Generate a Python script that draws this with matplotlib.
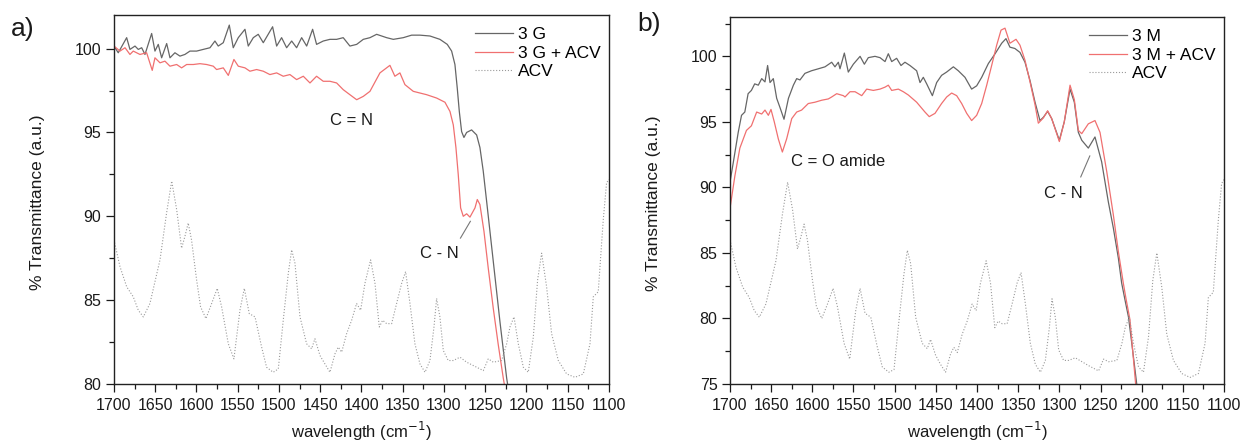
import matplotlib
matplotlib.use('Agg')
import matplotlib.pyplot as plt
from matplotlib.ticker import MultipleLocator

plt.rcParams['font.family'] = ['Liberation Sans', 'DejaVu Sans']

# ---- panel a) : 3 G ----
g_x = [1700, 1694.8, 1684.6, 1680.6, 1674.5, 1670.5, 1666.4, 1662.4, 1654.3, 1650.3,
       1646.3, 1642.2, 1636.1, 1632.1, 1626.1, 1620, 1614, 1607.9, 1599.8, 1591.8,
       1583.6, 1577.6, 1573.6, 1567.5, 1560.2, 1555.4, 1549.3, 1541.2, 1537.2, 1531.1,
       1525.1, 1519, 1507.7, 1502.8, 1496.8, 1490.7, 1484.6, 1478.6, 1472.5, 1466.4,
       1459.2, 1454.4, 1446.3, 1438.2, 1430.1, 1422.1, 1414, 1405.8, 1397.8, 1389.7,
       1381.6, 1369.5, 1361.4, 1349.3, 1339.2, 1329.1, 1317, 1304.9, 1296, 1290.7,
       1286.7, 1283.9, 1281.4, 1278.6, 1275.8, 1272.5, 1266.5, 1260.4, 1256.4, 1252.4,
       1248.3, 1240.2, 1232.1, 1224, 1221.6]
g_y = [100.15, 99.75, 100.65, 99.95, 100.15, 99.95, 100.05, 99.65, 100.9, 99.85,
       100.25, 99.45, 100.3, 99.45, 99.75, 99.55, 99.65, 99.85, 99.85, 99.95,
       100.05, 100.45, 100.15, 100.35, 101.4, 100.05, 100.65, 101.15, 100.15, 100.65,
       100.85, 100.35, 101.3, 100.15, 100.65, 100.05, 100.45, 100.05, 100.65, 100.15,
       101.15, 100.25, 100.45, 100.55, 100.55, 100.65, 100.15, 100.25, 100.55, 100.65,
       100.85, 100.65, 100.55, 100.65, 100.8, 100.8, 100.75, 100.55, 100.25, 99.85,
       99.05, 97.65, 96.25, 95.05, 94.7, 95.0, 95.15, 94.85, 94.1, 92.7,
       90.9, 87.3, 83.7, 80.35, 79.6]

# ---- panel a) : 3 G + ACV ----
ga_x = [1700, 1692.7, 1686.6, 1680.6, 1676.6, 1668.5, 1660.4, 1653.6, 1650.3, 1644.2,
        1638.2, 1632.1, 1624, 1618, 1611.9, 1603.8, 1595.8, 1587.7, 1579.6, 1575.6,
        1567.5, 1561.4, 1554.6, 1549.3, 1541.2, 1535.2, 1527.1, 1519, 1511, 1502.8,
        1494.8, 1486.7, 1478.6, 1470.5, 1462.4, 1454.4, 1446.3, 1438.2, 1430.1, 1422.1,
        1414, 1405.8, 1397.8, 1389.7, 1377.6, 1365.5, 1359.5, 1353.4, 1347.3, 1337.2,
        1329.1, 1321, 1308.9, 1298.8, 1292.7, 1288.7, 1285.5, 1282.7, 1279.8, 1276.6,
        1272.5, 1268.5, 1262.4, 1259.6, 1256.4, 1251.5, 1246.3, 1240.2, 1234.2, 1228.1,
        1225.7]
ga_y = [100.15, 99.85, 100.05, 99.65, 99.85, 99.65, 99.75, 98.7, 99.45, 99.15,
        99.25, 98.95, 99.05, 98.85, 99.05, 99.05, 99.1, 99.05, 98.95, 98.75,
        98.85, 98.4, 99.35, 98.95, 98.85, 98.65, 98.75, 98.65, 98.45, 98.55,
        98.35, 98.45, 98.15, 98.35, 97.95, 98.35, 98.05, 98.05, 97.95, 97.55,
        97.25, 96.95, 97.15, 97.45, 98.55, 99.0, 98.35, 98.55, 97.85, 97.45,
        97.35, 97.25, 97.05, 96.8, 96.25, 95.45, 94.1, 92.5, 90.5, 90.0,
        90.15, 89.95, 90.5, 91.0, 90.7, 89.1, 86.9, 84.5, 82.35, 80.35,
        79.65]

# ---- ACV (same spectrum, drawn in each panel) ----
acv_x = [1700, 1692.7, 1684.6, 1676.6, 1670.5, 1664.4, 1656.4, 1644.2, 1636.2, 1630,
         1624, 1618, 1614, 1610, 1606, 1599.8, 1595, 1588.5, 1581.6, 1574.8,
         1569.5, 1561.4, 1554.6, 1547.3, 1542, 1536, 1529, 1521, 1515, 1507,
         1500.8, 1494.8, 1488.7, 1484.6, 1480.6, 1474.5, 1466.5, 1460.4, 1456.4, 1450.3,
         1444.3, 1438.2, 1432.1, 1428.1, 1424, 1418, 1411.9, 1405.9, 1401, 1395.8,
         1388.9, 1383.6, 1378.4, 1374.3, 1369.5, 1363.4, 1357.4, 1351.3, 1346.5, 1341.2,
         1335.2, 1329.1, 1323, 1317, 1312.1, 1308.9, 1304.9, 1300.8, 1294.8, 1288.7,
         1280.6, 1272.5, 1264.4, 1252.3, 1246.3, 1240.2, 1230.1, 1224, 1220, 1215.1,
         1209.9, 1203.8, 1197.8, 1191.7, 1186.5, 1181.6, 1175.6, 1169.5, 1161.4, 1151.3,
         1141.2, 1131.1, 1123, 1119, 1113, 1106.9, 1102.9, 1100]
acv_a = [88.6, 87.0, 85.8, 85.2, 84.4, 84.0, 84.8, 87.4, 90.2, 92.1,
         90.4, 88.1, 88.8, 89.6, 88.6, 86.2, 84.6, 83.9, 84.8, 85.7,
         84.6, 82.4, 81.5, 84.4, 85.7, 84.2, 84.0, 82.2, 81.0, 80.7,
         80.9, 83.8, 86.6, 88.0, 87.2, 84.0, 82.4, 82.1, 82.7, 81.7,
         81.2, 80.7, 81.8, 82.2, 81.9, 83.0, 83.8, 84.8, 84.4, 86.0,
         87.4, 86.0, 83.4, 83.8, 83.6, 83.6, 84.8, 86.0, 86.7, 84.8,
         82.4, 81.2, 80.7, 81.4, 83.4, 85.1, 84.0, 82.0, 81.4, 81.4,
         81.6, 81.3, 81.1, 80.8, 81.5, 81.3, 81.4, 82.4, 83.4, 84.0,
         82.4, 81.0, 80.7, 82.8, 86.2, 87.8, 85.8, 83.0, 81.4, 80.6,
         80.4, 80.6, 82.4, 85.2, 85.5, 89.8, 92.0, 92.2]
acv_b = [86.0, 83.9, 82.4, 81.6, 80.6, 80.1, 81.1, 84.4, 88.0, 90.4,
         88.3, 85.3, 86.2, 87.2, 86.0, 82.9, 80.9, 80.0, 81.1, 82.3,
         80.9, 78.1, 76.9, 80.6, 82.3, 80.4, 80.1, 77.8, 76.3, 75.9,
         76.1, 79.8, 83.4, 85.2, 84.2, 80.1, 78.1, 77.7, 78.4, 77.2,
         76.5, 75.9, 77.3, 77.8, 77.4, 78.8, 79.8, 81.1, 80.6, 82.7,
         84.4, 82.7, 79.3, 79.8, 79.6, 79.6, 81.1, 82.7, 83.5, 81.1,
         78.1, 76.5, 75.9, 76.8, 79.3, 81.5, 80.1, 77.6, 76.8, 76.8,
         77.0, 76.7, 76.4, 76.0, 76.9, 76.7, 76.8, 78.1, 79.3, 80.1,
         78.1, 76.3, 75.9, 78.6, 82.9, 85.0, 82.4, 78.8, 76.8, 75.8,
         75.5, 75.8, 78.1, 81.6, 82.0, 87.5, 90.3, 90.6]

# ---- panel b) : 3 M ----
m_x = [1700, 1696, 1690, 1686, 1682, 1678, 1674, 1670, 1665.6, 1661.5,
       1657.5, 1654.3, 1651.4, 1647.4, 1643.3, 1639.3, 1634.4, 1629, 1623, 1619,
       1615, 1609, 1601, 1592.7, 1584.6, 1576.5, 1572.5, 1568.4, 1566.4, 1561.1,
       1556.3, 1550.2, 1542, 1536.8, 1532, 1523.9, 1517.8, 1511.7, 1507.7, 1503.6,
       1497.6, 1492.3, 1487.5, 1481.4, 1473.3, 1469.2, 1465.2, 1461.1, 1454.2, 1449,
       1443, 1436.9, 1428.7, 1422.7, 1414.6, 1406.5, 1400.4, 1394.3, 1386.2, 1378,
       1370, 1364.8, 1360, 1354, 1347.8, 1341.7, 1335.6, 1329.5, 1323.5, 1319.4,
       1314.2, 1309.3, 1300, 1294, 1287, 1281.8, 1276.9, 1272.8, 1264.8, 1256.7,
       1248.6, 1240.5, 1234.4, 1228.3, 1224.3, 1220.2, 1216, 1212, 1206, 1204]
m_y = [90.4, 91.9, 94.2, 95.5, 95.75, 97.15, 97.4, 97.9, 97.8, 98.3,
       98.05, 99.3, 98.0, 98.3, 96.8, 96.1, 95.2, 96.8, 97.8, 98.3,
       98.2, 98.7, 98.9, 99.05, 99.2, 99.55, 99.2, 99.55, 99.05, 100.25,
       98.8, 99.4, 100.0, 99.4, 99.9, 100.0, 99.9, 99.6, 100.2, 99.6,
       99.85, 99.3, 99.55, 99.3, 98.9, 98.0, 98.4, 97.9, 97.0, 98.0,
       98.55, 98.8, 99.2, 98.9, 98.4, 97.5, 97.75, 98.4, 99.45, 100.2,
       101.0, 101.35, 100.7, 100.6, 100.3, 99.55, 98.15, 96.5, 95.1, 95.35,
       95.8, 95.25, 93.6, 95.0, 97.5, 96.5, 94.2, 93.6, 93.0, 93.85,
       91.95, 88.9, 86.9, 84.6, 82.7, 81.4, 80.1, 78.1, 75.0, 74.3]

# ---- panel b) : 3 M + ACV ----
ma_x = [1700, 1694, 1688, 1680, 1674, 1667.6, 1661.5, 1657.5, 1653.4, 1650.2,
        1646.2, 1641.3, 1636.4, 1631.2, 1625, 1619, 1613, 1604.9, 1596.8, 1588.7,
        1580.6, 1576.5, 1570.4, 1562.3, 1560.3, 1554.2, 1548.1, 1540, 1534, 1525.9,
        1517.8, 1511.7, 1507.7, 1503.6, 1495.5, 1489.5, 1483.4, 1473.3, 1463.2, 1458,
        1451, 1443, 1436.8, 1430.8, 1424.7, 1418.6, 1412.5, 1406.5, 1400.4, 1394.3,
        1388.2, 1382.2, 1376.1, 1370.8, 1366, 1360, 1352.6, 1347.8, 1341.7, 1335.6,
        1329.5, 1325.5, 1319.4, 1314.2, 1309.3, 1300, 1294, 1287, 1281.8, 1276.9,
        1272.8, 1264.8, 1256.7, 1250.6, 1242.4, 1234.4, 1228.3, 1222.3, 1219, 1214.2,
        1207.4, 1205]
ma_y = [88.4, 90.9, 93.0, 94.35, 94.7, 95.75, 95.6, 95.9, 95.5, 95.95,
        95.0, 93.7, 92.7, 93.7, 95.25, 95.75, 95.9, 96.4, 96.5, 96.65,
        96.75, 96.9, 97.15, 97.0, 96.9, 97.3, 97.3, 97.0, 97.5, 97.4,
        97.5, 97.65, 97.8, 97.4, 97.5, 97.3, 97.05, 96.5, 95.75, 95.4,
        95.65, 96.4, 96.9, 97.2, 97.0, 96.4, 95.65, 95.1, 95.5, 96.4,
        97.8, 99.3, 100.85, 102.0, 102.15, 101.0, 101.3, 100.85, 99.7, 98.05,
        96.3, 94.9, 95.3, 95.85, 95.25, 93.5, 95.0, 97.8, 96.7, 94.35,
        94.1, 94.85, 95.1, 94.2, 91.2, 87.9, 85.1, 82.7, 81.5, 79.9,
        75.05, 74.3]

gray = '#666666'
red = '#f07070'
acv_c = '#9a9a9a'
txt = '#1a1a1a'

fig = plt.figure(figsize=(12.4, 4.42), dpi=100)
ax1 = fig.add_axes([0.0919, 0.1312, 0.3992, 0.8348])
ax2 = fig.add_axes([0.5887, 0.1312, 0.3984, 0.8303])


def style(ax, ymin, ymax, ticks):
    ax.set_xlim(1700, 1100)
    ax.set_ylim(ymin, ymax)
    ax.set_xticks(range(1700, 1099, -50))
    ax.set_yticks(ticks)
    ax.xaxis.set_minor_locator(MultipleLocator(25))
    ax.yaxis.set_minor_locator(MultipleLocator(2.5))
    ax.tick_params(which='major', direction='out', length=6, width=0.9, colors=txt,
                   labelsize=11.5)
    ax.tick_params(which='minor', direction='out', length=3.5, width=0.9, colors=txt)
    ax.tick_params(axis='x', pad=4)
    ax.tick_params(axis='y', pad=3)
    for sp in ax.spines.values():
        sp.set_linewidth(1.0)
        sp.set_color('#222222')
    ax.set_xlabel('wavelength (cm$^{-1}$)', fontsize=12, color=txt, va='top')
    ax.set_ylabel('% Transmittance (a.u.)', fontsize=12.5, color=txt)
    ax.xaxis.set_label_coords(0.5, -0.097)
    ax.yaxis.set_label_coords(-0.139, 0.493)
    ax.legend(loc='upper right', bbox_to_anchor=(1.005, 0.995), frameon=False,
              fontsize=12.5, handlelength=2.2, handletextpad=0.3,
              labelspacing=0.18, borderaxespad=0.2)


ax1.plot(g_x, g_y, color=gray, lw=0.9, label='3 G')
ax1.plot(ga_x, ga_y, color=red, lw=0.9, label='3 G + ACV')
ax1.plot(acv_x, acv_a, color=acv_c, lw=0.8, ls=':', label='ACV')
style(ax1, 80, 102, [80, 85, 90, 95, 100])
ax1.text(1412, 95.7, 'C = N', fontsize=12, ha='center', va='center', color=txt)
ax1.text(1306, 87.8, 'C - N', fontsize=12, ha='center', va='center', color=txt)
ax1.plot([1280, 1268], [88.7, 89.7], color='#777777', lw=0.8)

ax2.plot(m_x, m_y, color=gray, lw=0.9, label='3 M')
ax2.plot(ma_x, ma_y, color=red, lw=0.9, label='3 M + ACV')
ax2.plot(acv_x, acv_b, color=acv_c, lw=0.8, ls=':', label='ACV')
style(ax2, 75, 103, [75, 80, 85, 90, 95, 100])
ax2.text(1569, 92.0, 'C = O amide', fontsize=12, ha='center', va='center', color=txt)
ax2.text(1295, 89.5, 'C - N', fontsize=12, ha='center', va='center', color=txt)
ax2.plot([1274, 1263], [90.8, 92.4], color='#777777', lw=0.8)

fig.text(0.009, 0.962, 'a)', fontsize=19, ha='left', va='top', color=txt)
fig.text(0.514, 0.972, 'b)', fontsize=19, ha='left', va='top', color=txt)

fig.savefig('out.png', dpi=100)
